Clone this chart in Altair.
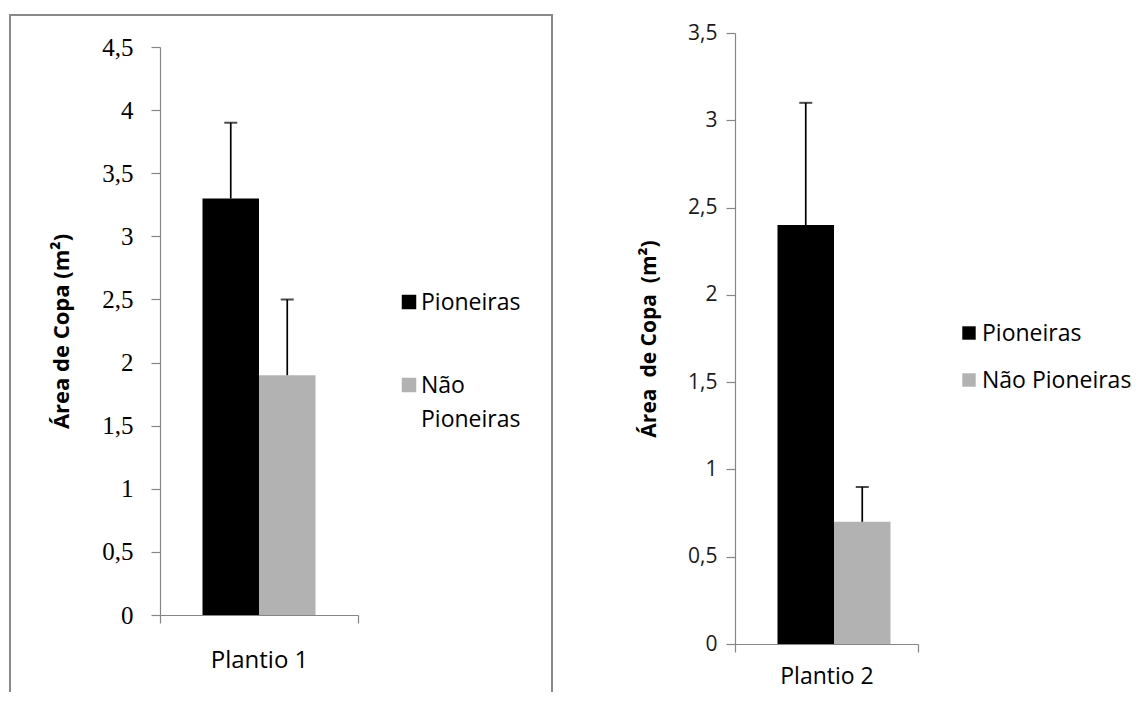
import altair as alt
import pandas as pd

# ---------------- data ----------------
grupos = ["Pioneiras", "Não Pioneiras"]
cores = ["#000000", "#b2b2b2"]

plantio1 = ["Plantio 1", "Plantio 1"]
media1 = [3.3, 1.9]
sup1 = [3.9, 2.5]
ticks1 = [0, 0.5, 1, 1.5, 2, 2.5, 3, 3.5, 4, 4.5]

plantio2 = ["Plantio 2", "Plantio 2"]
media2 = [2.4, 0.7]
sup2 = [3.1, 0.9]
ticks2 = [0, 0.5, 1, 1.5, 2, 2.5, 3, 3.5]

titulo1 = "Área de Copa (m²)"
titulo2 = "Área\u00a0 de Copa\u00a0 (m²)"

AXIS_GRAY = "#868686"
SANS = "Open Sans"


def painel(plantio, media, sup, ticks, ymax, cfg):
    df = pd.DataFrame({"plantio": plantio, "grupo": grupos, "media": media, "sup": sup})
    w, h = cfg["w"], cfg["h"]
    yscale = alt.Scale(domain=[0, ymax], nice=False, zero=True, range=cfg["yrange"])

    x = alt.X(
        "plantio:N",
        title=None,
        scale=alt.Scale(paddingInner=0, paddingOuter=0),
        axis=alt.Axis(
            labelAngle=0, tickBand="extent", ticks=True, tickSize=8,
            domainColor=AXIS_GRAY, tickColor=AXIS_GRAY, domainWidth=1.2, tickWidth=1.2,
            labelFont=SANS, labelFontSize=cfg["xfs"], labelColor="#000000",
            labelPadding=cfg["xpad"],
        ),
    )
    xo = alt.XOffset(
        "grupo:N", sort=grupos,
        scale=alt.Scale(domain=grupos, paddingOuter=cfg["pout"], paddingInner=0),
    )
    color = alt.Color("grupo:N", scale=alt.Scale(domain=grupos, range=cores), legend=None)

    yaxis = alt.Axis(
        values=ticks,
        labelExpr="replace(toString(datum.value), '.', ',')",
        grid=False,
        domainColor=AXIS_GRAY, tickColor=AXIS_GRAY, domainWidth=1.2, tickWidth=1.2,
        tickSize=9,
        labelFont=cfg["yfont"], labelFontSize=cfg["yfs"], labelColor=cfg["ycolor"],
        labelPadding=cfg["ypad"],
        title=cfg["title"], titleFont=SANS, titleFontWeight="bold",
        titleFontSize=cfg["tfs"], titleColor="#000000",
        titleX=cfg["titleX"], titleBaseline="middle",
    )

    base = alt.Chart(df)
    bars = base.mark_bar().encode(
        x=x, xOffset=xo,
        y=alt.Y("media:Q", scale=yscale, axis=yaxis),
        color=color,
    )
    err = base.mark_rule(color="#000000", strokeWidth=1.7).encode(
        x=x, xOffset=xo,
        y=alt.Y("media:Q", scale=yscale, axis=None),
        y2="sup:Q",
    )
    cap = base.mark_tick(color="#000000", size=13, thickness=2).encode(
        x=x, xOffset=xo,
        y=alt.Y("sup:Q", scale=yscale, axis=None),
    )

    # legend (drawn from the category list)
    leg_y = alt.Y("grupo:N", scale=alt.Scale(type="point", domain=grupos,
                                             range=cfg["leg_range"], padding=0),
                  axis=None)
    leg_sq = base.mark_square(opacity=1, size=cfg["sq"]).encode(
        x=alt.value(cfg["sq_x"]), y=leg_y, color=color,
    )
    txt_kwargs = dict(align="left", baseline="alphabetic", dy=8, font=SANS,
                      fontSize=cfg["lfs"], color="#000000", lineHeight=34)
    if cfg["wrap"]:
        txt_kwargs["lineBreak"] = " "
    leg_tx = base.mark_text(**txt_kwargs).encode(
        x=alt.value(cfg["tx_x"]), y=leg_y, text="grupo:N",
    )

    layers = [bars, err, cap, leg_sq, leg_tx]

    if cfg["frame"]:
        one = alt.Chart(pd.DataFrame({"k": [0]}))
        fl, fr, ft, fb = -150, 392, -18, 659
        frame_style = dict(color="#898989", strokeWidth=2)
        layers += [
            one.mark_rule(**frame_style).encode(x=alt.value(fl), y=alt.value(ft), y2=alt.value(fb)),
            one.mark_rule(**frame_style).encode(x=alt.value(fr), y=alt.value(ft), y2=alt.value(fb)),
            one.mark_rule(**frame_style).encode(x=alt.value(fl - 1), x2=alt.value(fr + 1), y=alt.value(ft)),
        ]

    return alt.layer(*layers).resolve_scale(y="independent").properties(width=w, height=h)


left = painel(plantio1, media1, sup1, ticks1, 4.5, dict(
    w=198, h=582, yrange=[582, 14], pout=0.752,
    xfs=24, xpad=25,
    yfont="Liberation Serif", yfs=25, ycolor="#000000", ypad=18,
    title=titulo1, tfs=22, titleX=-99,
    leg_range=[269, 352], sq=210, sq_x=249, tx_x=261, lfs=23, wrap=True,
    frame=True,
))

right = painel(plantio2, media2, sup2, ticks2, 3.5, dict(
    w=183, h=611, yrange=[611, 0], pout=0.777,
    xfs=23, xpad=13,
    yfont=SANS, yfs=21, ycolor="#1a1a1a", ypad=9,
    title=titulo2, tfs=21, titleX=-86,
    leg_range=[300, 347], sq=180, sq_x=234, tx_x=247, lfs=23, wrap=False,
    frame=False,
))

chart = alt.hconcat(left, right, spacing=377, bounds="flush").properties(
    padding={"left": 0, "top": 6, "right": 0, "bottom": 0},
    background="white",
).configure_view(stroke=None)

chart.save("out.html", embed_options={"renderer": "svg", "actions": False})
